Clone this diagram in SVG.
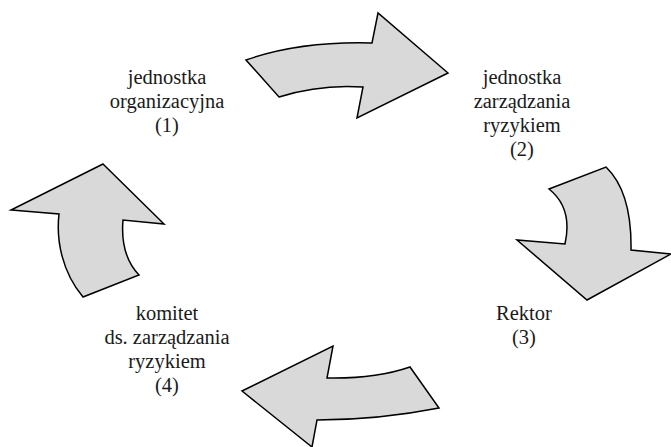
<svg xmlns="http://www.w3.org/2000/svg" width="671" height="447" viewBox="0 0 671 447">
<style>
.arrow{fill:#d9d9d9;stroke:#000;stroke-width:1.5;stroke-linejoin:miter}
.lbl{font-family:'Liberation Serif','Times New Roman','DejaVu Serif',serif;font-size:20.5px;fill:#1a1a1a;text-anchor:middle}
</style>
<rect width="671" height="447" fill="#fff"/>
<g id="connectors">
<path id="arrow1" class="arrow" d="M246,60 Q300,41 372,43 L378,13 L448,73 L357,118 L363,87 Q320,84 279,97 Z"/>
<path id="arrow2" class="arrow" d="M549,189 L606,167 Q632,192 631,250 L671,254 L587,300 L517,240 L565,244 Q573,208 549,189 Z"/>
<path id="arrow3" class="arrow" d="M333,346 L327,378 Q375,379 410,367 L439,408 Q378,420 317,420 L312,447 L242,391 Z"/>
<path id="arrow4" class="arrow" d="M103,164 L164,224 L123,220 Q120,255 139,275 L83,297 C62,272 56,240 59,214 L11,210 Z"/>
</g>
<g id="node1" font-family="Liberation Serif, serif">
<text class="lbl" x="167" y="84">jednostka</text>
<text class="lbl" x="167" y="108">organizacyjna</text>
<text class="lbl" x="167" y="132">(1)</text>
</g>
<g id="node2">
<text class="lbl" x="522" y="84">jednostka</text>
<text class="lbl" x="522" y="108">zarządzania</text>
<text class="lbl" x="522" y="132">ryzykiem</text>
<text class="lbl" x="522" y="156">(2)</text>
</g>
<g id="node3">
<text class="lbl" x="524" y="320">Rektor</text>
<text class="lbl" x="524" y="344">(3)</text>
</g>
<g id="node4">
<text class="lbl" x="167" y="320">komitet</text>
<text class="lbl" x="167" y="344">ds. zarządzania</text>
<text class="lbl" x="167" y="368">ryzykiem</text>
<text class="lbl" x="167" y="392">(4)</text>
</g>
</svg>
